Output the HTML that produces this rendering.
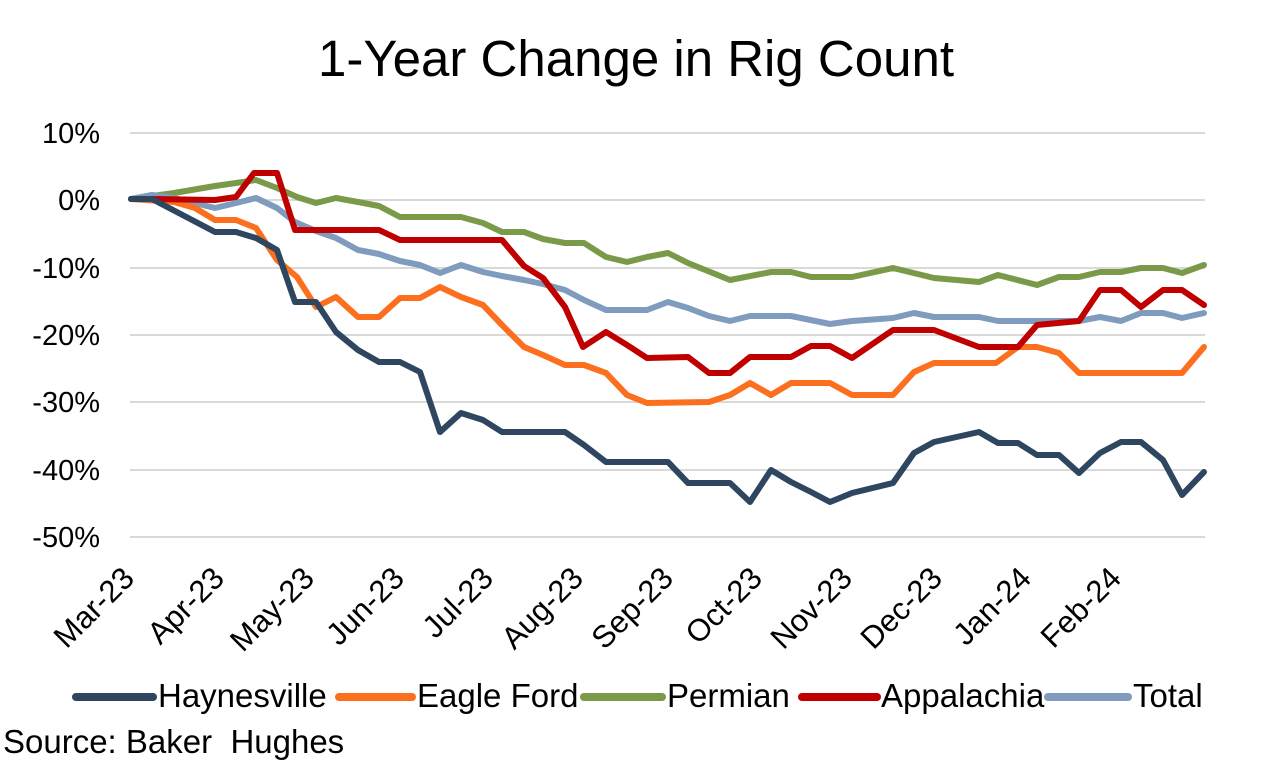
<!DOCTYPE html>
<html><head><meta charset="utf-8"><style>
html,body{margin:0;padding:0;background:#fff;}
svg{display:block;font-family:"Liberation Sans",Arial,sans-serif;}
</style></head><body>
<svg width="1270" height="768" viewBox="0 0 1270 768" xmlns="http://www.w3.org/2000/svg">
<rect width="1270" height="768" fill="#fff"/>
<text x="636" y="76" font-size="51" text-anchor="middle" fill="#000">1-Year Change in Rig Count</text>
<g stroke="#d9d9d9" stroke-width="2">
<line x1="130" x2="1205" y1="133" y2="133"/><line x1="130" x2="1205" y1="200" y2="200"/>
<line x1="130" x2="1205" y1="268" y2="268"/><line x1="130" x2="1205" y1="335" y2="335"/>
<line x1="130" x2="1205" y1="402" y2="402"/><line x1="130" x2="1205" y1="470" y2="470"/>
<line x1="130" x2="1205" y1="537" y2="537"/>
</g>
<g font-size="29" text-anchor="end" fill="#000">
<text x="100" y="143">10%</text><text x="100" y="210">0%</text><text x="100" y="278">-10%</text>
<text x="100" y="345">-20%</text><text x="100" y="412">-30%</text><text x="100" y="480">-40%</text>
<text x="100" y="547">-50%</text>
</g>
<g font-size="31" text-anchor="end" fill="#000">
<text transform="translate(136,580) rotate(-45)">Mar-23</text>
<text transform="translate(226,580) rotate(-45)">Apr-23</text>
<text transform="translate(316,580) rotate(-45)">May-23</text>
<text transform="translate(406,580) rotate(-45)">Jun-23</text>
<text transform="translate(495,580) rotate(-45)">Jul-23</text>
<text transform="translate(585,580) rotate(-45)">Aug-23</text>
<text transform="translate(675,580) rotate(-45)">Sep-23</text>
<text transform="translate(764,580) rotate(-45)">Oct-23</text>
<text transform="translate(854,580) rotate(-45)">Nov-23</text>
<text transform="translate(944,580) rotate(-45)">Dec-23</text>
<text transform="translate(1033,580) rotate(-45)">Jan-24</text>
<text transform="translate(1123,580) rotate(-45)">Feb-24</text>
</g>
<g fill="none" stroke-width="6" stroke-linejoin="round" stroke-linecap="round">
<polyline stroke="#7a9a4a" points="131,199 174,193 215,186 236,183 256,180 277,188 297,197 316,203 336,198 358,202 379,206 400,217 461,217 483,223 502,232 524,232 543,239 565,243 584,243 606,257 627,262 647,257 668,253 688,263 730,280 771,272 791,272 811,277 852,277 893,268 934,278 979,282 998,275 1037,285 1059,277 1079,277 1100,272 1121,272 1141,268 1163,268 1182,273 1204,265"/>
<polyline stroke="#7f9bbd" points="131,199 152,195 174,198 215,208 236,203 256,198 277,208 295,222 316,231 336,238 358,250 379,254 400,261 420,265 440,273 461,265 483,272 502,276 524,280 543,284 565,290 584,300 606,310 647,310 668,302 688,308 709,316 730,321 750,316 791,316 830,324 852,321 893,318 914,313 934,317 979,317 998,321 1079,321 1100,317 1121,321 1141,313 1163,313 1182,318 1204,313"/>
<polyline stroke="#fb6f1e" points="131,199 174,202 195,208 215,220 236,220 256,228 277,260 297,277 316,307 336,297 358,317 379,317 400,298 420,298 440,287 461,297 483,305 502,325 524,347 543,355 565,365 584,365 606,373 627,395 647,403 709,402 730,395 750,383 771,395 791,383 830,383 852,395 893,395 914,372 934,363 996,363 1018,347 1037,347 1059,353 1079,373 1182,373 1204,347"/>
<polyline stroke="#c00000" points="131,199 152,199 215,200 236,197 254,173 277,173 295,230 379,230 400,240 502,240 524,266 543,278 565,307 583,347 606,332 627,345 647,358 688,357 709,373 730,373 750,357 791,357 811,346 830,346 852,358 893,330 934,330 979,347 1018,347 1037,325 1079,321 1100,290 1121,290 1141,307 1163,290 1182,290 1204,305"/>
<polyline stroke="#2e4660" points="131,199 152,199 215,232 236,232 256,238 277,250 295,302 316,302 336,332 358,350 379,362 400,362 420,372 440,432 461,413 483,420 502,432 565,432 584,445 606,462 668,462 688,483 730,483 750,502 771,470 791,482 811,492 830,502 852,493 893,483 914,453 934,442 979,432 998,443 1018,443 1037,455 1059,455 1079,473 1100,453 1121,442 1141,442 1163,460 1182,495 1204,472"/>
</g>
<g stroke-width="8" stroke-linecap="round">
<line x1="76" x2="153" y1="697" y2="697" stroke="#2e4660"/>
<line x1="339" x2="412" y1="697" y2="697" stroke="#fb6f1e"/>
<line x1="584" x2="662" y1="697" y2="697" stroke="#7a9a4a"/>
<line x1="802" x2="877" y1="697" y2="697" stroke="#c00000"/>
<line x1="1048" x2="1128" y1="697" y2="697" stroke="#7f9bbd"/>
</g>
<g font-size="33" fill="#000">
<text x="158" y="707">Haynesville</text>
<text x="417" y="707">Eagle Ford</text>
<text x="667" y="707">Permian</text>
<text x="881" y="707">Appalachia</text>
<text x="1133" y="707">Total</text>
<text x="3" y="753" xml:space="preserve">Source: Baker  Hughes</text>
</g>
</svg>
</body></html>
